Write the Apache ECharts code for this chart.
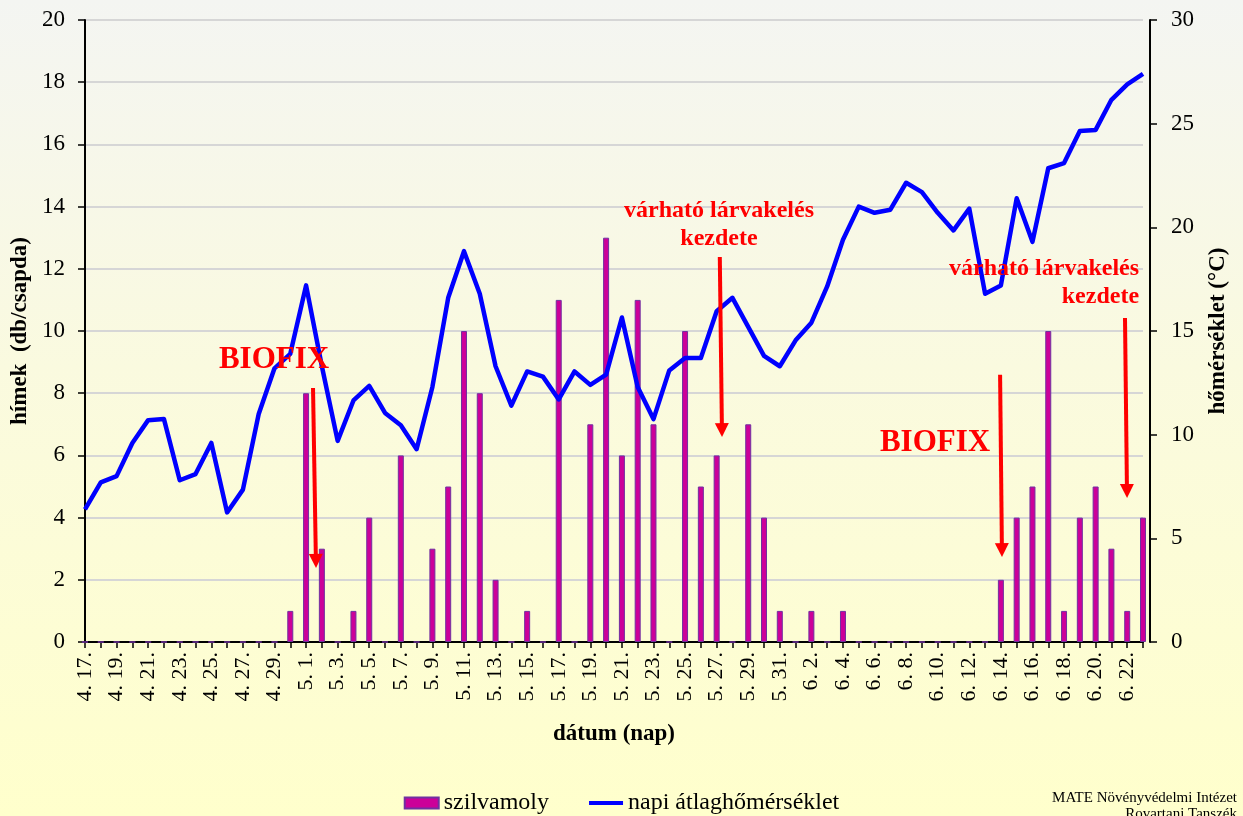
<!DOCTYPE html>
<html>
<head>
<meta charset="utf-8">
<script src="https://cdn.jsdelivr.net/npm/echarts@6/dist/echarts.min.js"></script>
<style>
html,body{margin:0;padding:0;}
#chart{width:1243px;height:816px;}
</style>
</head>
<body>
<div id="chart"></div>
<script>
// ---- data ----
const dates = [
  '4. 17.','4. 18.','4. 19.','4. 20.','4. 21.','4. 22.','4. 23.','4. 24.','4. 25.','4. 26.','4. 27.','4. 28.','4. 29.','4. 30.',
  '5. 1.','5. 2.','5. 3.','5. 4.','5. 5.','5. 6.','5. 7.','5. 8.','5. 9.','5. 10.','5. 11.','5. 12.','5. 13.','5. 14.','5. 15.','5. 16.',
  '5. 17.','5. 18.','5. 19.','5. 20.','5. 21.','5. 22.','5. 23.','5. 24.','5. 25.','5. 26.','5. 27.','5. 28.','5. 29.','5. 30.','5. 31.',
  '6. 1.','6. 2.','6. 3.','6. 4.','6. 5.','6. 6.','6. 7.','6. 8.','6. 9.','6. 10.','6. 11.','6. 12.','6. 13.','6. 14.','6. 15.','6. 16.',
  '6. 17.','6. 18.','6. 19.','6. 20.','6. 21.','6. 22.','6. 23.'
];
const szilvamoly = [
  0,0,0,0,0,0,0,0,0,0,0,0,0,1,
  8,3,0,1,4,0,6,0,3,5,10,8,2,0,1,0,
  11,0,7,13,6,11,7,0,10,5,6,0,7,4,1,
  0,1,0,1,0,0,0,0,0,0,0,0,0,2,4,5,
  10,1,4,5,3,1,4
];
const homerseklet = [
  6.4,7.7,8.0,9.6,10.7,10.75,7.8,8.1,9.6,6.25,7.35,11.0,13.2,13.9,
  17.2,13.3,9.7,11.65,12.35,11.05,10.45,9.3,12.3,16.6,18.85,16.8,13.3,11.4,13.05,12.8,
  11.7,13.05,12.4,12.9,15.65,12.3,10.75,13.1,13.7,13.7,15.95,16.6,15.2,13.8,13.3,
  14.55,15.4,17.15,19.4,21.0,20.7,20.85,22.15,21.7,20.7,19.85,20.9,16.8,17.2,21.4,19.3,
  22.85,23.1,24.65,24.7,26.15,26.9,27.4
];
const seriesNames = ['szilvamoly', 'napi átlaghőmérséklet'];
const leftTicks = {min: 0, max: 20, interval: 2};
const rightTicks = {min: 0, max: 30, interval: 5};

const SERIF = '"Liberation Serif", "Times New Roman", serif';
const chart = echarts.init(document.getElementById('chart'), null, {renderer: 'canvas'});

const option = {
  animation: false,
  backgroundColor: {
    type: 'linear', x: 0, y: 0, x2: 0, y2: 1,
    colorStops: [{offset: 0, color: '#f4f5f2'}, {offset: 0.45, color: '#fafadf'}, {offset: 1, color: '#ffffcc'}]
  },
  textStyle: {fontFamily: SERIF},
  grid: {left: 85, right: 100, top: 20, bottom: 174, containLabel: false},
  legend: {
    left: 'center', top: 786,
    itemWidth: 34, itemHeight: 11, itemGap: 40,
    textStyle: {fontFamily: SERIF, fontSize: 24, color: '#000'},
    data: [
      {name: seriesNames[0], icon: 'rect'},
      {name: seriesNames[1], icon: 'path://M0,0 H34 V4 H0 Z', itemStyle: {color: '#0000ff'}}
    ]
  },
  xAxis: {
    type: 'category',
    data: dates,
    boundaryGap: false,
    name: 'dátum (nap)',
    nameLocation: 'middle',
    nameGap: 81,
    nameTextStyle: {fontFamily: SERIF, fontSize: 23, fontWeight: 'bold', color: '#000'},
    axisLine: {lineStyle: {color: '#000', width: 2}},
    axisTick: {show: true, interval: 0, length: 6, lineStyle: {color: '#000', width: 1.5}},
    axisLabel: {interval: 1, rotate: 90, margin: 10, fontFamily: SERIF, fontSize: 22, color: '#000'},
    splitLine: {show: false}
  },
  yAxis: [
    {
      type: 'value', position: 'left',
      min: leftTicks.min, max: leftTicks.max, interval: leftTicks.interval,
      name: 'hímek  (db/csapda)', nameLocation: 'middle', nameRotate: 90, nameGap: 49,
      nameTextStyle: {fontFamily: SERIF, fontSize: 23, fontWeight: 'bold', color: '#000'},
      axisLine: {show: true, lineStyle: {color: '#000', width: 2}},
      axisTick: {show: true, length: 7, lineStyle: {color: '#000', width: 1.5}},
      axisLabel: {margin: 20, fontFamily: SERIF, fontSize: 23, color: '#000'},
      splitLine: {show: true, lineStyle: {color: '#d6d6d6', width: 2}}
    },
    {
      type: 'value', position: 'right', offset: 7,
      min: rightTicks.min, max: rightTicks.max, interval: rightTicks.interval,
      name: 'hőmérséklet (°C)', nameLocation: 'middle', nameRotate: 90, nameGap: 57,
      nameTextStyle: {fontFamily: SERIF, fontSize: 23, fontWeight: 'bold', color: '#000'},
      axisLine: {show: true, lineStyle: {color: '#000', width: 2}},
      axisTick: {show: true, length: 7, lineStyle: {color: '#000', width: 1.5}},
      axisLabel: {margin: 21, fontFamily: SERIF, fontSize: 23, color: '#000'},
      splitLine: {show: false}
    }
  ],
  series: [
    {
      name: seriesNames[0], type: 'bar', yAxisIndex: 0,
      data: szilvamoly, barWidth: 6, clip: false,
      itemStyle: {color: '#cc0099', borderColor: '#7030a0', borderWidth: 1}
    },
    {
      name: seriesNames[1], type: 'line', yAxisIndex: 1,
      data: homerseklet, symbol: 'none', showSymbol: false,
      lineStyle: {color: '#0000ff', width: 4.5, join: 'round'},
      itemStyle: {color: '#0000ff'}
    }
  ]
};
chart.setOption(option);

// ---- annotations (anchored in data coordinates of the left axis) ----
function px(ix, v) {
  const a = chart.convertToPixel({xAxisIndex: 0, yAxisIndex: 0}, [0, v]);
  const b = chart.convertToPixel({xAxisIndex: 0, yAxisIndex: 0}, [dates.length - 1, v]);
  return [a[0] + (b[0] - a[0]) * ix / (dates.length - 1), a[1]];
}
const RED = '#ff0000';
const notes = [
  {kind: 'text', text: 'BIOFIX', at: [11.97, 9.07], size: 31, align: 'center'},
  {kind: 'arrow', from: [14.44, 8.17], to: [14.63, 2.38]},
  {kind: 'text', text: 'várható lárvakelés\nkezdete', at: [40.15, 13.43], size: 24, align: 'center'},
  {kind: 'arrow', from: [40.2, 12.38], to: [40.34, 6.59]},
  {kind: 'text', text: 'BIOFIX', at: [53.83, 6.4], size: 31, align: 'center'},
  {kind: 'arrow', from: [57.95, 8.59], to: [58.07, 2.73]},
  {kind: 'text', text: 'várható lárvakelés\nkezdete', at: [66.75, 11.54], size: 24, align: 'right'},
  {kind: 'arrow', from: [65.86, 10.42], to: [65.99, 4.63]}
];
const graphics = [];
notes.forEach(n => {
  if (n.kind === 'text') {
    const p = px(n.at[0], n.at[1]);
    graphics.push({
      type: 'text', z: 100,
      style: {
        text: n.text, x: p[0], y: p[1],
        font: 'bold ' + n.size + 'px ' + SERIF,
        fill: RED, align: n.align, verticalAlign: 'middle', lineHeight: 28
      }
    });
  } else {
    const p0 = px(n.from[0], n.from[1]);
    const p1 = px(n.to[0], n.to[1]);
    const dx = p1[0] - p0[0], dy = p1[1] - p0[1];
    const L = Math.sqrt(dx * dx + dy * dy);
    const ux = dx / L, uy = dy / L;
    const hl = 14, hw = 7;
    const bx = p1[0] - ux * hl, by = p1[1] - uy * hl;
    graphics.push({
      type: 'line', z: 100,
      shape: {x1: p0[0], y1: p0[1], x2: bx + ux * 2, y2: by + uy * 2},
      style: {stroke: RED, lineWidth: 4}
    });
    graphics.push({
      type: 'polygon', z: 100,
      shape: {points: [[p1[0], p1[1]], [bx - uy * hw, by + ux * hw], [bx + uy * hw, by - ux * hw]]},
      style: {fill: RED}
    });
  }
});
graphics.push({
  type: 'text', z: 100,
  style: {
    text: 'MATE Növényvédelmi Intézet\nRovartani Tanszék',
    x: 1237, y: 790, font: '15px ' + SERIF, fill: '#000',
    align: 'right', verticalAlign: 'top', lineHeight: 16
  }
});
chart.setOption({graphic: graphics});
</script>
</body>
</html>
